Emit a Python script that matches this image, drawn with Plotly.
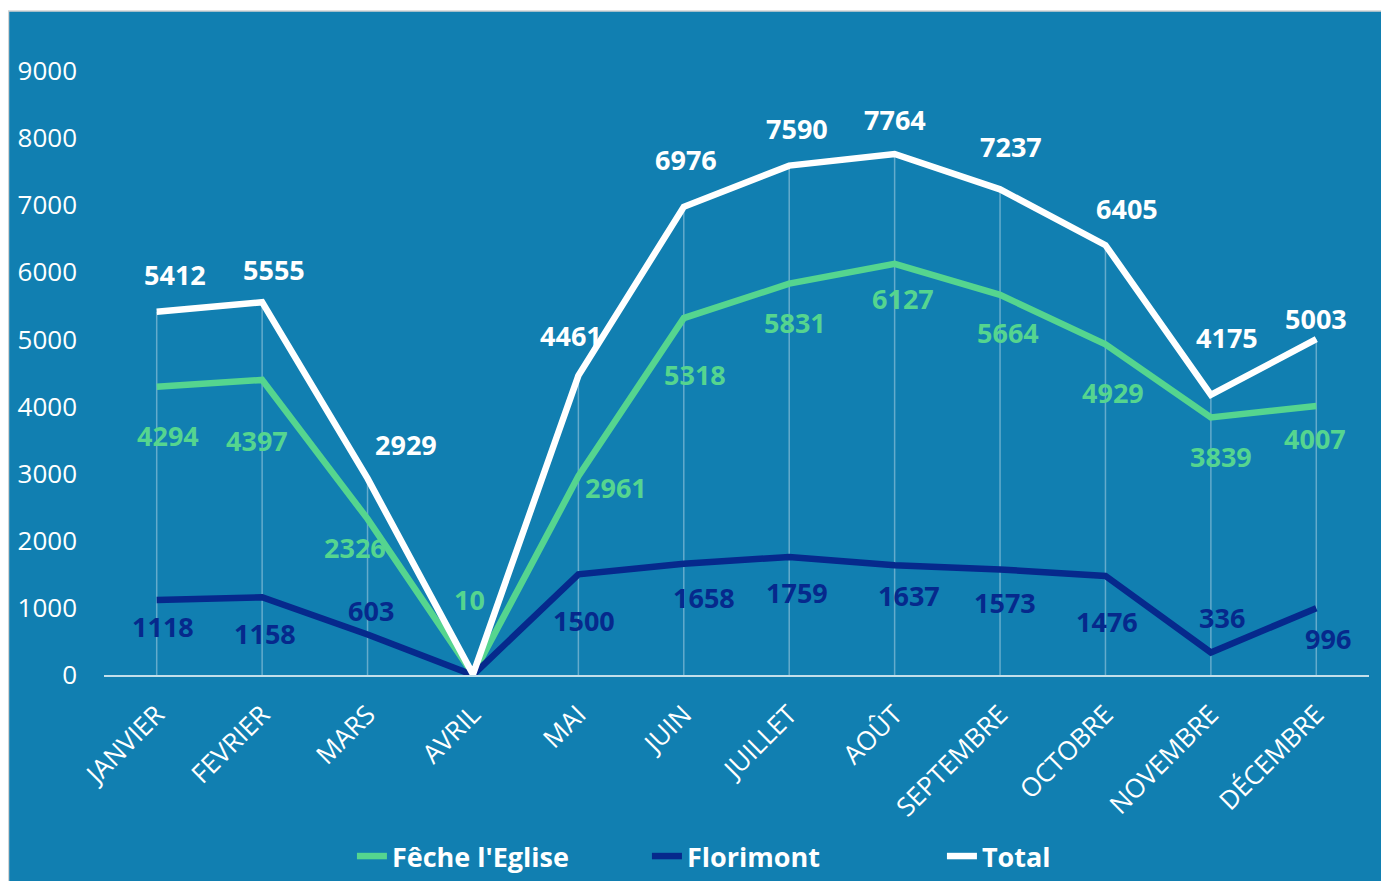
import plotly.graph_objects as go

# months on the x axis
months = ["JANVIER", "FEVRIER", "MARS", "AVRIL", "MAI", "JUIN", "JUILLET",
          "AOÛT", "SEPTEMBRE", "OCTOBRE", "NOVEMBRE", "DÉCEMBRE"]

# values per site
feche = [4294, 4397, 2326, 10, 2961, 5318, 5831, 6127, 5664, 4929, 3839, 4007]
florimont = [1118, 1158, 603, 0, 1500, 1658, 1759, 1637, 1573, 1476, 336, 996]
total = [5412, 5555, 2929, 10, 4461, 6976, 7590, 7764, 7237, 6405, 4175, 5003]

y_ticks = [0, 1000, 2000, 3000, 4000, 5000, 6000, 7000, 8000, 9000]

# colours
bg_blue = "#117fb1"
green = "#55d58f"
navy = "#06298c"
white = "#ffffff"

# label offsets in pixels (dx, dy) to place the data labels like the original
total_off = [(18, -37), (12, -33), (38, -34), None, (-7, -40), (2, -47), (8, -37),
             (0, -34), (11, -43), (22, -37), (16, -57), (0, -21)]
feche_off = [(11, 49), (-5, 61), (-13, 29), (-3, -75), (38, 11), (11, 56), (6, 39),
             (8, 35), (8, 38), (8, 48), (10, 39), (-1, 32)]
flori_off = [(6, 27), (3, 36), (3, -24), None, (6, 46), (20, 34), (8, 36),
             (14, 30), (5, 33), (2, 46), (11, -35), (12, 30)]

fig = go.Figure()

# thin drop lines from the axis up to the highest point of each month
drop_x = []
drop_y = []
for m, t in zip(months, total):
    drop_x += [m, m, None]
    drop_y += [0, t, None]
fig.add_trace(go.Scatter(x=drop_x, y=drop_y, mode="lines",
                         line=dict(color="rgba(255,255,255,0.35)", width=1.5),
                         showlegend=False, hoverinfo="skip"))

# the three series
fig.add_trace(go.Scatter(x=months, y=feche, name="Fêche l'Eglise", mode="lines",
                         line=dict(color=green, width=6.5)))
fig.add_trace(go.Scatter(x=months, y=florimont, name="Florimont", mode="lines",
                         line=dict(color=navy, width=6.5)))
fig.add_trace(go.Scatter(x=months, y=total, name="Total", mode="lines",
                         line=dict(color=white, width=6.5)))

# data labels
annotations = []
for values, offsets, col in [(feche, feche_off, green),
                             (florimont, flori_off, navy),
                             (total, total_off, white)]:
    for m, v, off in zip(months, values, offsets):
        if off is None:
            continue
        annotations.append(dict(x=m, y=v, text=str(v), showarrow=False,
                                xshift=off[0], yshift=-off[1],
                                font=dict(family="Open Sans", size=27, color=col, weight="bold")))

# the page has an 8px body margin, so the figure is a bit smaller than the window
fig.update_layout(
    width=1381, height=873,
    paper_bgcolor="white",
    plot_bgcolor=bg_blue,
    margin=dict(l=96, r=20, t=63, b=206),
    font=dict(family="Open Sans", color="white"),
    annotations=annotations,
    showlegend=True,
    legend=dict(orientation="h", x=0.196, xanchor="left",
                yref="container", y=-0.014, yanchor="bottom",
                font=dict(size=27, color="white", weight="bold"),
                entrywidth=250, bgcolor="rgba(0,0,0,0)"),
    # blue chart area with a thin grey frame
    shapes=[dict(type="rect", xref="paper", yref="paper", x0=-0.0755, x1=1.1,
                 y0=-0.6, y1=1.0993, fillcolor=bg_blue,
                 line=dict(color="#d4d4d4", width=1.5), layer="below")],
)

fig.update_xaxes(
    range=[-0.5, 11.5], automargin=False,
    showgrid=False, zeroline=False,
    showline=True, linecolor="rgba(255,255,255,0.75)", linewidth=2,
    tickangle=-45, ticklabelstandoff=12,
    tickfont=dict(size=26, color="white"),
)
fig.update_yaxes(
    range=[0, 9000], tickvals=y_ticks, automargin=False,
    showgrid=False, zeroline=False, showline=False,
    ticklabelstandoff=26,
    tickfont=dict(size=26, color="white"),
)

fig.write_html("out.html")
